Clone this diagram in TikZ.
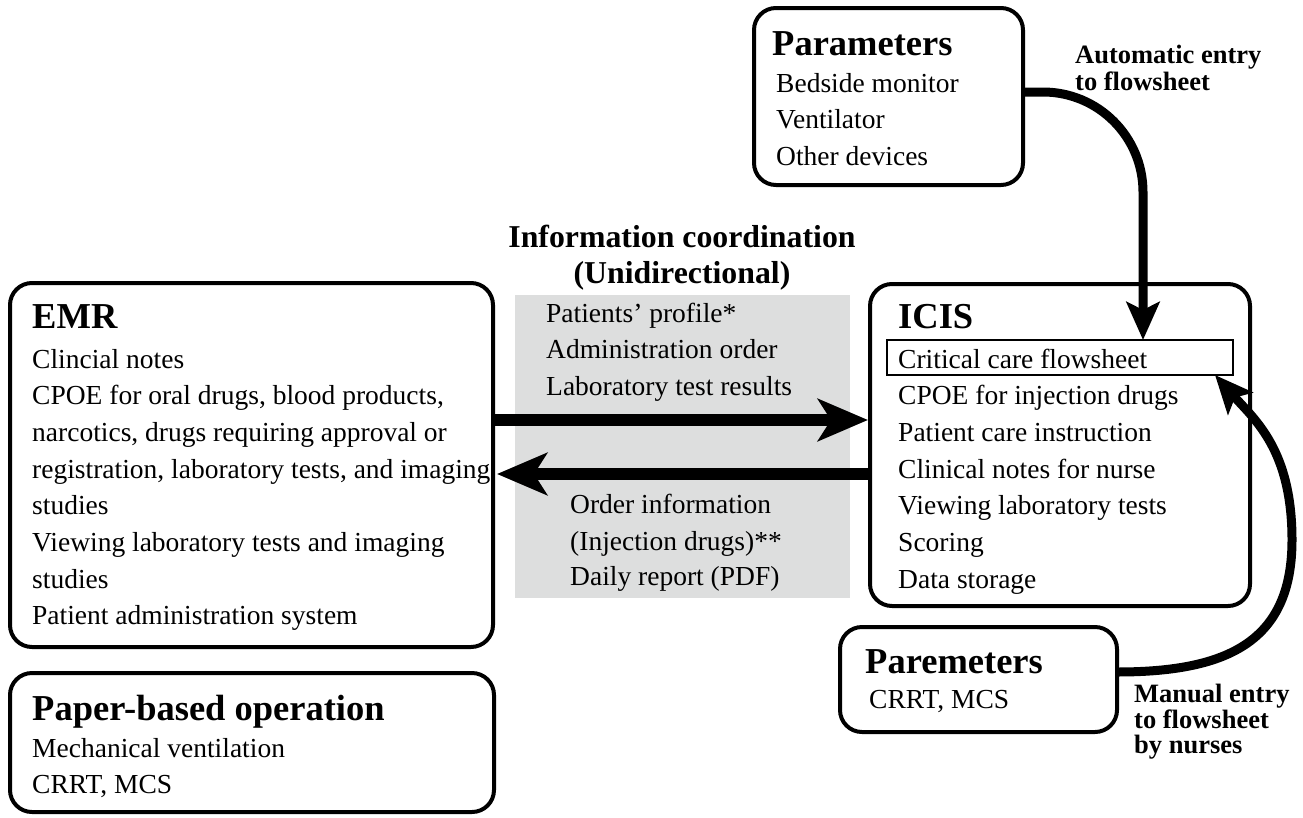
\documentclass[tikz,border=0pt]{standalone}
\usepackage{fontspec}
\setmainfont{Liberation Serif}
\usetikzlibrary{arrows.meta}
\definecolor{bandgray}{RGB}{221,222,222}
\begin{document}
\begin{tikzpicture}[x=1pt,y=-1pt,
  box/.style={draw, line width=4pt, rounded corners=22pt, inner sep=0pt, outer sep=0pt},
  item/.style={anchor=base west, inner sep=0pt, font=\fontsize{27.5}{33}\selectfont},
  heading/.style={anchor=base west, inner sep=0pt, font=\fontsize{36.5}{40}\selectfont\bfseries},
  bandtitle/.style={anchor=base, inner sep=0pt, font=\fontsize{31.8}{36}\selectfont\bfseries},
  note/.style={anchor=base west, inner sep=0pt, font=\fontsize{26.5}{30}\selectfont\bfseries},
  flowarrow/.style={line width=12.5pt, -{Stealth[length=50pt,width=42pt,inset=13pt]}},
  entryarrow/.style={line width=9pt, -{Stealth[length=38pt,width=33pt,inset=8pt]}}]

% page extent
\useasboundingbox (0,0) rectangle (1303,817);
\fill[white] (0,0) rectangle (1303,817);

% shaded band for the exchanged information
\node[fill=bandgray, minimum width=335pt, minimum height=303pt, inner sep=0pt] (band) at (682.5,446.5) {};

% system boxes
\node[box, minimum width=269pt, minimum height=177pt] (params) at (888.5,96.5) {};
\node[box, minimum width=483pt, minimum height=364pt] (emr) at (251.5,465) {};
\node[box, minimum width=484pt, minimum height=139pt] (paper) at (252,742.5) {};
\node[box, minimum width=380pt, minimum height=322pt] (icis) at (1060,445) {};
\node[box, minimum width=277pt, minimum height=105pt] (mparams) at (978.5,679.5) {};
\node[draw, line width=2pt, minimum width=346pt, minimum height=35pt, inner sep=0pt, outer sep=0pt] (flow) at (1060,357.5) {};

% EMR
\node[heading] (emr-title) at (32,328) {EMR};
\foreach \t [count=\i from 0] in {Clincial notes,
    {CPOE for oral drugs, blood products,},
    {narcotics, drugs requiring approval or},
    {registration, laboratory tests, and imaging},
    studies,
    Viewing laboratory tests and imaging,
    studies,
    Patient administration system}
  \node[item] (emr-\i) at (32,{368+36.7*\i}) {\t};

% paper-based operation
\node[heading] (paper-title) at (32,720) {Paper-based operation};
\node[item] (paper-0) at (32,757) {Mechanical ventilation};
\node[item] (paper-1) at (32,793) {CRRT, MCS};

% device parameters
\node[heading] (params-title) at (772,55) {Parameters};
\node[item] (params-0) at (776,92) {Bedside monitor};
\node[item] (params-1) at (776,128) {Ventilator};
\node[item] (params-2) at (776,165) {Other devices};

% ICIS
\node[heading] (icis-title) at (898,328) {ICIS};
\foreach \t [count=\i from 0] in {Critical care flowsheet,
    CPOE for injection drugs,
    Patient care instruction,
    Clinical notes for nurse,
    Viewing laboratory tests,
    Scoring,
    Data storage}
  \node[item] (icis-\i) at (898,{368+36.7*\i}) {\t};

% manually entered parameters
\node[heading] (mparams-title) at (865,673) {Paremeters};
\node[item] (mparams-0) at (869,708) {CRRT, MCS};

% information coordination
\node[bandtitle] (band-title1) at (682,247) {Information coordination};
\node[bandtitle] (band-title2) at (682,283) {(Unidirectional)};
\node[item] (to-icis-0) at (546,322) {Patients' profile*};
\node[item] (to-icis-1) at (546,358) {Administration order};
\node[item] (to-icis-2) at (546,395) {Laboratory test results};
\node[item] (to-emr-0) at (570,513) {Order information};
\node[item] (to-emr-1) at (570,550) {(Injection drugs)**};
\node[item] (to-emr-2) at (570,585) {Daily report (PDF)};

% entry labels
\node[note] (auto-0) at (1075,63) {Automatic entry};
\node[note] (auto-1) at (1075,90) {to flowsheet};
\node[note] (manual-0) at (1134,702) {Manual entry};
\node[note] (manual-1) at (1134,728) {to flowsheet};
\node[note] (manual-2) at (1134,753) {by nurses};

% connectors
\coordinate (ry) at (0,420);
\coordinate (ly) at (0,474);
\coordinate (autoy) at (0,92);
\coordinate (autox) at (1143,0);
\coordinate (manualy) at (0,672);

\draw[flowarrow, shorten >=2pt] (emr.east |- ry) -- (icis.west |- ry);
\draw[flowarrow, shorten >=4pt] (icis.west |- ly) -- (emr.east |- ly);
\draw[entryarrow, rounded corners=100pt] (params.east |- autoy) -| (flow.north -| autox);
\draw[entryarrow] (mparams.east |- manualy)
  .. controls (1230,672) and (1292,640) .. (1292,540)
  .. controls (1292,450) and (1255,420) .. ([xshift=-18pt]flow.south east);
\end{tikzpicture}
\end{document}
